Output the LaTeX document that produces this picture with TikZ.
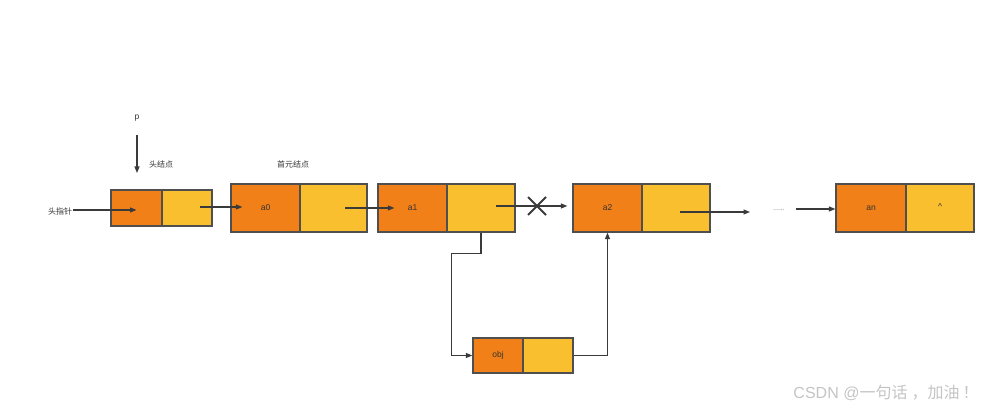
\documentclass[tikz,border=0pt]{standalone}
\usepackage{fontspec}
\setmainfont{Liberation Sans}
\newfontfamily\cjk{Noto Sans CJK SC}
\usetikzlibrary{arrows.meta,calc}
\definecolor{cOrange}{HTML}{F28018}
\definecolor{cYellow}{HTML}{F9BF2E}
\definecolor{cBorder}{HTML}{4F4F4F}
\definecolor{cLine}{HTML}{3A3A3A}
\definecolor{cText}{HTML}{333333}
\definecolor{cMark}{HTML}{C4C4C4}
\tikzset{
  cell/.style={draw=cBorder, line width=1.3pt, inner sep=0pt, font=\fontsize{8.5}{9}\selectfont, text=cText},
  cellL/.style={cell, fill=cOrange},
  cellR/.style={cell, fill=cYellow},
  link/.style={draw=cLine, line width=1.1pt, -{Triangle[length=6.5pt,width=5pt]}},
  lbl/.style={font=\cjk\fontsize{8}{9}\selectfont, text=cText, inner sep=0pt},
}
\begin{document}
\begin{tikzpicture}[x=1pt,y=-1pt]
\useasboundingbox (0,0) rectangle (994,411);
% head node
\node[cellL, minimum width=51pt, minimum height=36pt] (hL) at (136.5,208) {};
\node[cellR, minimum width=50pt, minimum height=36pt] (hR) at (187,208) {};
% a0
\node[cellL, minimum width=69pt, minimum height=48pt] (a0L) at (265.5,208) {a0};
\node[cellR, minimum width=67pt, minimum height=48pt] (a0R) at (333.5,208) {};
% a1
\node[cellL, minimum width=69pt, minimum height=48pt] (a1L) at (412.5,208) {a1};
\node[cellR, minimum width=68pt, minimum height=48pt] (a1R) at (481,208) {};
% a2
\node[cellL, minimum width=69pt, minimum height=48pt] (a2L) at (607.5,208) {a2};
\node[cellR, minimum width=68pt, minimum height=48pt] (a2R) at (676,208) {};
% an
\node[cellL, minimum width=70pt, minimum height=48pt] (anL) at (871,208) {an};
\node[cellR, minimum width=68pt, minimum height=48pt] (anR) at (940,208) {\raisebox{2pt}{\^{}}};
% obj
\node[cellL, minimum width=50pt, minimum height=35pt] (objL) at (498,355.5) {obj};
\node[cellR, minimum width=50pt, minimum height=35pt] (objR) at (548,355.5) {};
% labels
\node[font=\fontsize{8.5}{9}\selectfont, text=cText] (p) at (137,118) {p};
\node[lbl] (headlbl) at (161,164) {头结点};
\node[lbl] (firstlbl) at (293,164) {首元结点};
\node[lbl] (ptrlbl) at (60,211) {头指针};
\node[font=\fontsize{7}{8}\selectfont, text=cMark!60!black] (dots) at (779,210) {......};
\node[font=\fontsize{16}{17}\selectfont, text=cMark, inner sep=0pt] (wm) at (886,393) {CSDN @\cjk 一句话\hspace{4pt}，加油\hspace{3pt}！};
% connectors
\coordinate (pS) at (137,135);
\coordinate (pE) at (137,173);
\draw[link] (pS) -- (pE);
\coordinate (ptrS) at (73,210);
\draw[link] (ptrS) -- (hL.center |- ptrS);
\coordinate (hS) at (200,207);
\draw[link] (hS) -- ($(a0L.west |- hS)+(12,0)$);
\coordinate (a0S) at (345,208);
\draw[link] (a0S) -- ($(a1L.west |- a0S)+(17,0)$);
\coordinate (a1S) at (496,206);
\draw[link] (a1S) -- ($(a2L.west |- a1S)+(-5,0)$);
\coordinate (xc) at (537,206);
\draw[cLine, line width=2pt] ($(xc)+(-9,-9)$) -- ($(xc)+(9,9)$) ($(xc)+(-9,9)$) -- ($(xc)+(9,-9)$);
\coordinate (a2S) at (680,212);
\coordinate (a2E) at (750,212);
\draw[link] (a2S) -- (a2E);
\coordinate (dS) at (796,209);
\draw[link] (dS) -- (anL.west |- dS);
\draw[link] (a1R.south) -- ++(0,21) -| ($(objL.west)+(-21,0)$) -- (objL.west);
\draw[link] (objR.east) -| (a2L.south);
\end{tikzpicture}
\end{document}
